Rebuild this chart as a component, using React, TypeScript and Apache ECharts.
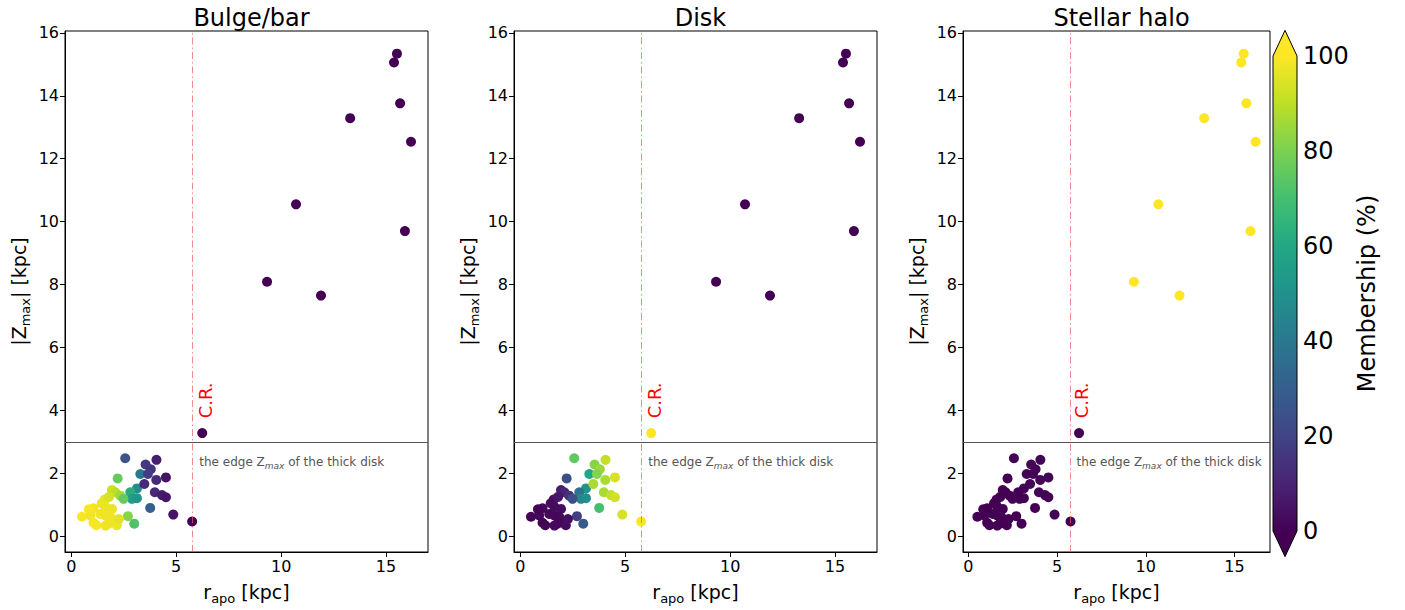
import React, { useEffect, useRef } from "react";
import * as echarts from "echarts";

// r_apo [kpc]
const rApo = [
  15.52, 15.38, 15.67, 16.19, 13.29, 10.71, 15.9, 9.33, 11.9, 6.24, 5.76, 4.86,
  2.57, 4.06, 3.54, 3.79, 3.29, 3.65, 2.21, 4.05, 4.51, 3.13, 3.48, 1.94, 2.1,
  2.33, 2.81, 3.98, 4.32, 4.51, 2.89, 3.13, 2.49, 1.59, 1.62, 1.06, 3.76, 1.94,
  0.51, 0.9, 1.62, 1.86, 1.06, 1.19, 1.86, 2.17, 2.7, 3.0, 1.78, 1.38, 0.84,
  1.63, 2.27, 1.45, 1.8,
];
// |Z_max| [kpc]
const zMax = [
  15.34, 15.06, 13.76, 12.54, 13.29, 10.55, 9.7, 8.09, 7.65, 3.28, 0.47, 0.69,
  2.48, 2.43, 2.28, 2.13, 1.98, 1.98, 1.84, 1.79, 1.87, 1.52, 1.66, 1.47, 1.4,
  1.29, 1.4, 1.4, 1.31, 1.24, 1.19, 1.21, 1.19, 1.17, 0.94, 0.89, 0.9, 0.87,
  0.62, 0.66, 0.66, 0.61, 0.43, 0.35, 0.5, 0.35, 0.64, 0.4, 0.4, 0.71, 0.86,
  0.34, 0.55, 1.05, 1.25,
];
// membership (%)
const bulge = [
  0, 0, 0, 0, 0, 0, 0, 0, 0, 0, 0, 5,
  25, 8, 17, 14, 40, 18, 76, 12, 5, 48, 12, 92, 90,
  86, 62, 12, 8, 6, 55, 52, 76, 96, 97, 98, 30, 97,
  99, 98, 98, 98, 99, 99, 98, 97, 82, 72, 98, 98, 99,
  98, 96, 97, 94,
];
const disk = [
  0, 0, 0, 0, 0, 0, 0, 0, 0, 100, 100, 94,
  75, 91, 82, 85, 59, 81, 24, 87, 94, 51, 87, 8, 10,
  14, 38, 87, 91, 93, 45, 48, 24, 4, 3, 2, 70, 3,
  1, 2, 2, 2, 1, 1, 2, 3, 18, 28, 2, 2, 1,
  2, 4, 3, 6,
];
const halo = [
  100, 100, 100, 100, 100, 100, 100, 100, 100, 0, 0, 1,
  0, 1, 1, 1, 1, 1, 0, 1, 1, 1, 1, 0, 0,
  0, 0, 1, 1, 1, 0, 0, 0, 0, 0, 0, 0, 0,
  0, 0, 0, 0, 0, 0, 0, 0, 0, 0, 0, 0, 0,
  0, 0, 0, 0,
];

const panelTitles = ["Bulge/bar", "Disk", "Stellar halo"];
const panelValues = [bulge, disk, halo];
const xTicks = [0, 5, 10, 15];
const yTicks = [0, 2, 4, 6, 8, 10, 12, 14, 16];
const corotation = 5.75;
const thickDiskEdge = 3;

const viridis = [
  "#440154", "#482475", "#414487", "#355f8d", "#2a788e", "#21918c",
  "#22a884", "#44bf70", "#7ad151", "#bddf26", "#fde725",
];

const FONT = "DejaVu Sans";
const grids = [
  { left: 65, top: 31, width: 363, height: 526 },
  { left: 514, top: 31, width: 363, height: 526 },
  { left: 963, top: 31, width: 307, height: 526 },
  { left: 1273, top: 56, width: 24, height: 475 },
];

export default function App() {
  const ref = useRef<HTMLDivElement>(null);
  useEffect(() => {
    if (!ref.current) return;
    const chart = echarts.init(ref.current, undefined, { renderer: "svg" });
    const nameRich = {
      a: { fontSize: 19, fontFamily: FONT, color: "#000", lineHeight: 22, verticalAlign: "top" },
      s: { fontSize: 13, fontFamily: FONT, color: "#000", lineHeight: 13, padding: [10, 0, 0, 0], verticalAlign: "top" },
    };
    const xAxes: any[] = [];
    const yAxes: any[] = [];
    const series: any[] = [];
    for (let i = 0; i < 3; i++) {
      xAxes.push({
        type: "value", gridIndex: i, min: -0.3, max: 17.0,
        splitLine: { show: false },
        axisLine: { show: true, onZero: false, lineStyle: { color: "#000", width: 1 } },
        axisTick: { show: true, length: 5, customValues: xTicks, lineStyle: { color: "#000" } },
        axisLabel: { customValues: xTicks, fontSize: 16, fontFamily: FONT, color: "#000", margin: 6 },
        name: "{a|r}{s|apo}{a| [kpc]}", nameLocation: "middle", nameGap: 30,
        nameTextStyle: { rich: nameRich },
      });
      yAxes.push({
        type: "value", gridIndex: i, min: -0.5, max: 16.06,
        splitLine: { show: false },
        axisLine: { show: true, onZero: false, lineStyle: { color: "#000", width: 1 } },
        axisTick: { show: true, length: 5, customValues: yTicks, lineStyle: { color: "#000" } },
        axisLabel: { customValues: yTicks, fontSize: 16, fontFamily: FONT, color: "#000", margin: 6 },
        name: "{a||Z}{s|max}{a|| [kpc]}", nameLocation: "middle", nameGap: 34, nameRotate: 90,
        nameTextStyle: { rich: nameRich },
      });
      const vals = panelValues[i];
      series.push({
        type: "scatter", xAxisIndex: i, yAxisIndex: i, symbolSize: 10,
        data: rApo.map((x, k) => [x, zMax[k], vals[k]]),
        itemStyle: { opacity: 1 },
        markLine: {
          silent: true, symbol: ["none", "none"], label: { show: false },
          data: [
            { yAxis: thickDiskEdge, lineStyle: { color: "#555", width: 1, type: "solid" } },
            { xAxis: corotation, lineStyle: { color: "rgba(240,90,90,0.7)", width: 1, type: [7, 3, 1.5, 3] } },
          ],
        },
      });
    }
    xAxes.push({ type: "value", gridIndex: 3, min: 0, max: 1, show: false });
    yAxes.push({
      type: "value", gridIndex: 3, min: 0, max: 100, interval: 20, position: "right",
      splitLine: { show: false },
      axisLine: { show: false },
      axisTick: { show: true, length: 5, lineStyle: { color: "#000" } },
      axisLabel: { fontSize: 24, fontFamily: FONT, color: "#000", margin: 6 },
      name: "Membership (%)", nameLocation: "middle", nameGap: 58, nameRotate: 90,
      nameTextStyle: { fontSize: 24, fontFamily: FONT, color: "#000" },
    });
    const stops = viridis.map((c, k) => ({ offset: k / (viridis.length - 1), color: c }));
    series.push({
      type: "custom", xAxisIndex: 3, yAxisIndex: 3, silent: true,
      data: [[0, 0]],
      renderItem: (params: any, api: any) => {
        const bl = api.coord([0, 0]);
        const tr = api.coord([1, 100]);
        const tip = api.coord([0.5, 105.4]);
        const btip = api.coord([0.5, -5.4]);
        const x0 = bl[0], x1 = tr[0], y0 = bl[1], y1 = tr[1];
        return {
          type: "group",
          children: [
            { type: "rect", shape: { x: x0, y: y1, width: x1 - x0, height: y0 - y1 },
              style: { fill: new echarts.graphic.LinearGradient(0, 1, 0, 0, stops) } },
            { type: "polygon", shape: { points: [[x0, y1], [x1, y1], tip] }, style: { fill: viridis[viridis.length - 1] } },
            { type: "polygon", shape: { points: [[x0, y0], [x1, y0], btip] }, style: { fill: viridis[0] } },
            { type: "polygon", shape: { points: [[x0, y1], tip, [x1, y1], [x1, y0], btip, [x0, y0]] },
              style: { fill: "none", stroke: "#000", lineWidth: 1 } },
          ],
        };
      },
    });

    chart.setOption({
      animation: false,
      backgroundColor: "#fff",
      title: grids.slice(0, 3).map((g, i) => ({
        text: panelTitles[i], left: g.left + g.width / 2, textAlign: "center", top: 1,
        textStyle: { fontSize: 24, fontWeight: "normal", fontFamily: FONT, color: "#000" },
      })),
      grid: grids.map((g, i) => ({ ...g, show: i < 3, borderColor: "#000", borderWidth: 1, containLabel: false })),
      xAxis: xAxes,
      yAxis: yAxes,
      visualMap: {
        type: "continuous", show: false, min: 0, max: 100, dimension: 2, seriesIndex: [0, 1, 2],
        inRange: { color: viridis },
      },
      series,
    });

    const graphics: any[] = [];
    for (let i = 0; i < 3; i++) {
      const cr = chart.convertToPixel({ gridIndex: i }, [6.38, 3.75]) as number[];
      graphics.push({
        type: "text", x: cr[0], y: cr[1], rotation: Math.PI / 2,
        style: { text: "C.R.", fill: "#ff0000", fontSize: 18, fontFamily: FONT, align: "left", verticalAlign: "middle" },
      });
      const ed = chart.convertToPixel({ gridIndex: i }, [6.1, 2.33]) as number[];
      graphics.push({
        type: "text", x: ed[0], y: ed[1],
        style: {
          text: "{a|the edge Z}{s|max}{a| of the thick disk}",
          align: "left", verticalAlign: "middle",
          rich: {
            a: { fontSize: 12, fontFamily: FONT, fill: "#555", lineHeight: 14, verticalAlign: "top" },
            s: { fontSize: 9, fontFamily: FONT, fontStyle: "italic", fill: "#555", lineHeight: 9, padding: [6, 0, 0, 0], verticalAlign: "top" },
          },
        },
      });
    }
    chart.setOption({ graphic: graphics });
    return () => chart.dispose();
  }, []);
  return <div ref={ref} style={{ position: "absolute", left: 0, top: 0, width: 1405, height: 610 }} />;
}
